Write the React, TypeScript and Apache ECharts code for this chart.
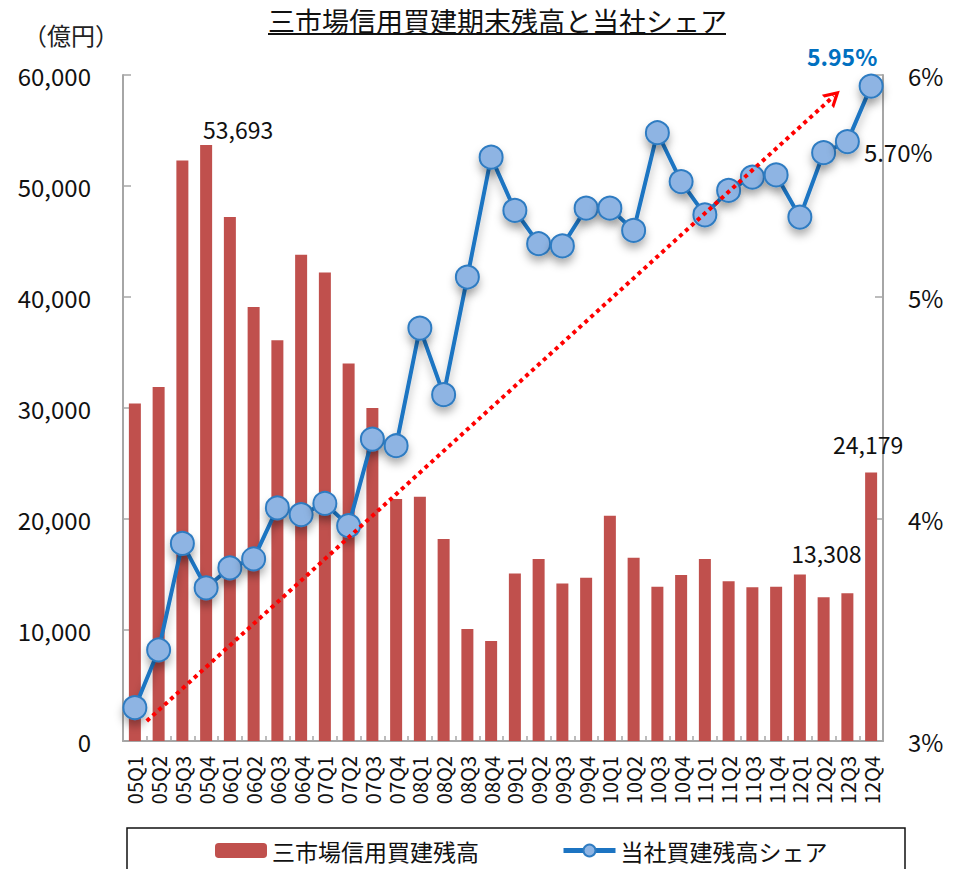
import React, { useEffect, useRef } from "react";
import * as echarts from "echarts";

const categories = [
  "05Q1", "05Q2", "05Q3", "05Q4", "06Q1", "06Q2", "06Q3", "06Q4",
  "07Q1", "07Q2", "07Q3", "07Q4", "08Q1", "08Q2", "08Q3", "08Q4",
  "09Q1", "09Q2", "09Q3", "09Q4", "10Q1", "10Q2", "10Q3", "10Q4",
  "11Q1", "11Q2", "11Q3", "11Q4", "12Q1", "12Q2", "12Q3", "12Q4",
];

// 三市場信用買建残高（億円）
const marketBalance = [
  30400, 31900, 52300, 53693, 47200, 39100, 36100, 43800,
  42200, 34000, 30000, 21800, 22000, 18200, 10100, 9000,
  15100, 16400, 14200, 14700, 20300, 16500, 13900, 14950,
  16400, 14400, 13850, 13900, 15000, 12950, 13308, 24179,
];

// 当社買建残高シェア（%）
const companyShare = [
  3.15, 3.41, 3.89, 3.69, 3.78, 3.82, 4.05, 4.02,
  4.07, 3.97, 4.36, 4.33, 4.86, 4.56, 5.09, 5.63,
  5.39, 5.24, 5.23, 5.4, 5.4, 5.3, 5.74, 5.52,
  5.37, 5.48, 5.54, 5.55, 5.36, 5.65, 5.7, 5.95,
];

const leftAxisMin = 0;
const leftAxisMax = 60000;
const leftAxisInterval = 10000;
const rightAxisMin = 3;
const rightAxisMax = 6;
const rightAxisInterval = 1;

// trend arrow endpoints: [category position, share %]
const trendStart = [0.5, 3.09];
const trendEnd = [29.43, 5.905];

const labelledBars = [3, 30, 31];
const labelledShares = [30, 31];

const titleText = "三市場信用買建期末残高と当社シェア";
const unitText = "（億円）";
const barName = "三市場信用買建残高";
const lineName = "当社買建残高シェア";

const FONT = "'Noto Sans CJK JP', 'Noto Sans', sans-serif";

const barLabelStyle: Record<number, any> = {
  3: { distance: 5, offset: [32, 0] },
  30: { distance: 29, offset: [-21, 0] },
  31: { distance: 17, offset: [-3, 0] },
};
const shareLabelStyle: Record<number, any> = {
  31: { position: "top", distance: 6, offset: [-29, 0], color: "#0070C0", fontWeight: "bold", fontSize: 23 },
  30: { position: "right", distance: 4, offset: [0, 10], color: "#111", fontWeight: "normal", fontSize: 24 },
};

const fmt = (v: number) => v.toLocaleString("en-US");

export default function App() {
  const ref = useRef<HTMLDivElement>(null);

  useEffect(() => {
    document.body.style.margin = "0";
    if (!ref.current) return;
    const chart = echarts.init(ref.current, undefined, { renderer: "svg" });

    const barData = marketBalance.map((v, i) =>
      labelledBars.includes(i)
        ? {
            value: v,
            label: {
              show: true,
              position: "top",
              formatter: (p: any) => fmt(p.value),
              fontSize: 23,
              fontFamily: FONT,
              color: "#111",
              ...barLabelStyle[i],
            },
          }
        : v
    );

    const lineData = companyShare.map((v, i) =>
      labelledShares.includes(i)
        ? {
            value: v,
            label: {
              show: true,
              formatter: (p: any) => p.value.toFixed(2) + "%",
              fontFamily: FONT,
              ...shareLabelStyle[i],
            },
          }
        : v
    );

    const axisGray = "#A6A6A6";

    chart.setOption({
      animation: false,
      backgroundColor: "#fff",
      graphic: [
        {
          type: "text",
          x: 268,
          y: 20,
          style: {
            text: titleText,
            fontSize: 27,
            fontFamily: FONT,
            fill: "#111",
            align: "left",
            verticalAlign: "middle",
          },
        },
        {
          type: "line",
          shape: { x1: 268, y1: 34, x2: 726, y2: 34 },
          style: { stroke: "#111", lineWidth: 2 },
        },
        {
          type: "text",
          x: 23,
          y: 34,
          style: {
            text: unitText,
            fontSize: 24,
            fontFamily: FONT,
            fill: "#222",
            align: "left",
            verticalAlign: "middle",
          },
        },
        {
          type: "rect",
          shape: { x: 127, y: 828, width: 778, height: 60 },
          style: { fill: "none", stroke: "#111", lineWidth: 1.5 },
          z: 0,
        },
      ],
      legend: {
        data: [barName, lineName],
        left: 210,
        top: 834,
        itemWidth: 52,
        itemHeight: 15,
        itemGap: 82,
        lineStyle: { width: 5 },
        textStyle: { fontSize: 23, fontFamily: FONT, color: "#111" },
      },
      grid: { left: 123, right: 75, top: 75, bottom: 128, containLabel: false },
      xAxis: [
        {
          type: "category",
          data: categories,
          boundaryGap: true,
          axisLine: { show: true, lineStyle: { color: axisGray, width: 2 } },
          axisTick: {
            show: true,
            inside: true,
            length: 5,
            interval: 0,
            lineStyle: { color: axisGray, width: 1.5 },
          },
          axisLabel: {
            interval: 0,
            rotate: 90,
            margin: 15,
            fontSize: 20,
            fontFamily: FONT,
            color: "#111",
          },
        },
        {
          type: "value",
          min: -0.5,
          max: categories.length - 0.5,
          show: false,
        },
      ],
      yAxis: [
        {
          type: "value",
          min: leftAxisMin,
          max: leftAxisMax,
          interval: leftAxisInterval,
          axisLine: { show: true, onZero: false, lineStyle: { color: axisGray, width: 2 } },
          axisTick: { show: true, inside: true, length: 8, lineStyle: { color: axisGray, width: 1.5 } },
          splitLine: { show: false },
          axisLabel: {
            margin: 32,
            fontSize: 24,
            fontFamily: FONT,
            color: "#111",
            formatter: (v: number) => fmt(v),
          },
        },
        {
          type: "value",
          min: rightAxisMin,
          max: rightAxisMax,
          interval: rightAxisInterval,
          position: "right",
          axisLine: { show: true, onZero: false, lineStyle: { color: axisGray, width: 2 } },
          axisTick: { show: true, inside: true, length: 8, lineStyle: { color: axisGray, width: 1.5 } },
          splitLine: { show: false },
          axisLabel: {
            margin: 25,
            fontSize: 24,
            fontFamily: FONT,
            color: "#111",
            formatter: (v: number) => v + "%",
          },
        },
      ],
      series: [
        {
          name: barName,
          type: "bar",
          data: barData,
          barWidth: 12,
          itemStyle: { color: "#C0504D" },
          z: 2,
        },
        {
          name: lineName,
          type: "line",
          yAxisIndex: 1,
          data: lineData,
          symbol: "circle",
          symbolSize: 23,
          lineStyle: {
            color: "#1C74C2",
            width: 4,
            shadowColor: "rgba(0,0,0,0.3)",
            shadowBlur: 8,
            shadowOffsetY: 6,
          },
          itemStyle: {
            color: "#8EB4E3",
            borderColor: "#2F7CC2",
            borderWidth: 2,
            shadowColor: "rgba(0,0,0,0.3)",
            shadowBlur: 8,
            shadowOffsetY: 6,
          },
          z: 3,
        },
        {
          name: "trend",
          type: "line",
          xAxisIndex: 1,
          yAxisIndex: 1,
          data: [],
          markLine: {
            silent: true,
            z: 10,
            symbol: ["none", "path://M0,10 L5,0 L10,10 L8,10 L5,4 L2,10 Z"],
            symbolSize: [18, 16],
            label: { show: false },
            lineStyle: { color: "#FF0000", width: 4, type: [4, 4] },
            itemStyle: { color: "#FF0000" },
            data: [[{ coord: trendStart }, { coord: trendEnd }]],
          },
        },
      ],
    });

    return () => chart.dispose();
  }, []);

  return <div ref={ref} style={{ width: 958, height: 869 }} />;
}
